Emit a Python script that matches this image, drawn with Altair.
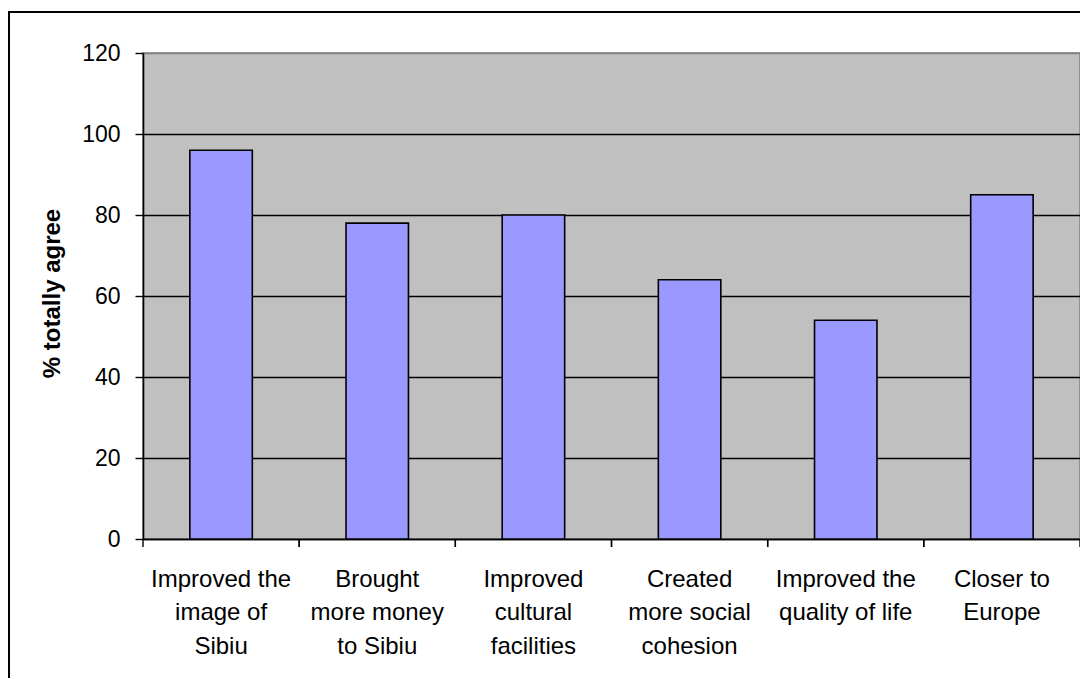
import altair as alt
import pandas as pd

categories = [
    "Improved the|image of|Sibiu",
    "Brought|more money|to Sibiu",
    "Improved|cultural|facilities",
    "Created|more social|cohesion",
    "Improved the|quality of life",
    "Closer to|Europe",
]
values = [96, 78, 80, 64, 54, 85]
y_ticks = [0, 20, 40, 60, 80, 100, 120]

df = pd.DataFrame({"cat": categories, "val": values})

FONT = "Liberation Sans"
W, H = 937, 486

xscale = alt.Scale(paddingInner=0, paddingOuter=0)

bars = alt.Chart(df).mark_bar(
    width=alt.RelativeBandSize(0.4),
    color="#9999FF", stroke="black", strokeWidth=1.6,
).encode(
    x=alt.X("cat:N", sort=None, scale=xscale,
            axis=alt.Axis(title=None, labelAngle=0, ticks=False, tickSize=0,
                          labelPadding=28, labelFont=FONT, labelFontSize=24,
                          labelColor="black", labelLineHeight=33.5,
                          labelExpr="split(datum.label, '|')",
                          domainColor="black", domainWidth=1.6, grid=False)),
    y=alt.Y("val:Q", scale=alt.Scale(domain=[0, 120], nice=False),
            axis=alt.Axis(title="% totally agree", values=y_ticks,
                          labelFont=FONT, labelFontSize=23, labelColor="black",
                          tickColor="black", tickSize=8, tickWidth=1.4, labelPadding=15,
                          domainColor="black", domainWidth=1.6,
                          grid=True, gridWidth=1.4,
                          gridColor={"condition": {"test": "datum.value >= 120", "value": "#808080"},
                                     "value": "black"},
                          titleFont=FONT, titleFontSize=24, titleFontWeight="bold",
                          titleColor="black", titleAngle=270, titleAlign="center",
                          titleBaseline="alphabetic", titleX=-84, titleY=240)),
)

ticks_left = alt.Chart(df).mark_rule(color="black", strokeWidth=1.4).encode(
    x=alt.X("cat:N", sort=None, bandPosition=0, scale=xscale),
    y=alt.value(H), y2=alt.value(H + 8),
)
ticks_right = alt.Chart(df).mark_rule(color="black", strokeWidth=1.4).encode(
    x=alt.X("cat:N", sort=None, bandPosition=1, scale=xscale),
    y=alt.value(H), y2=alt.value(H + 8),
)

border = alt.Chart(alt.Data(values=[{}])).mark_rect(
    filled=False, stroke="black", strokeWidth=2
).encode(
    x=alt.value(-134), y=alt.value(-41), x2=alt.value(1300), y2=alt.value(900)
)

chart = alt.layer(border, bars, ticks_left, ticks_right).properties(
    width=W, height=H,
    padding={"left": 135, "top": 45, "right": 0, "bottom": 139},
    autosize=alt.AutoSizeParams(type="none"),
    background="white",
).configure_view(
    fill="#C0C0C0", stroke="#808080", strokeWidth=1.5
)

chart.save("out.html", embed_options={"renderer": "svg", "actions": False})
